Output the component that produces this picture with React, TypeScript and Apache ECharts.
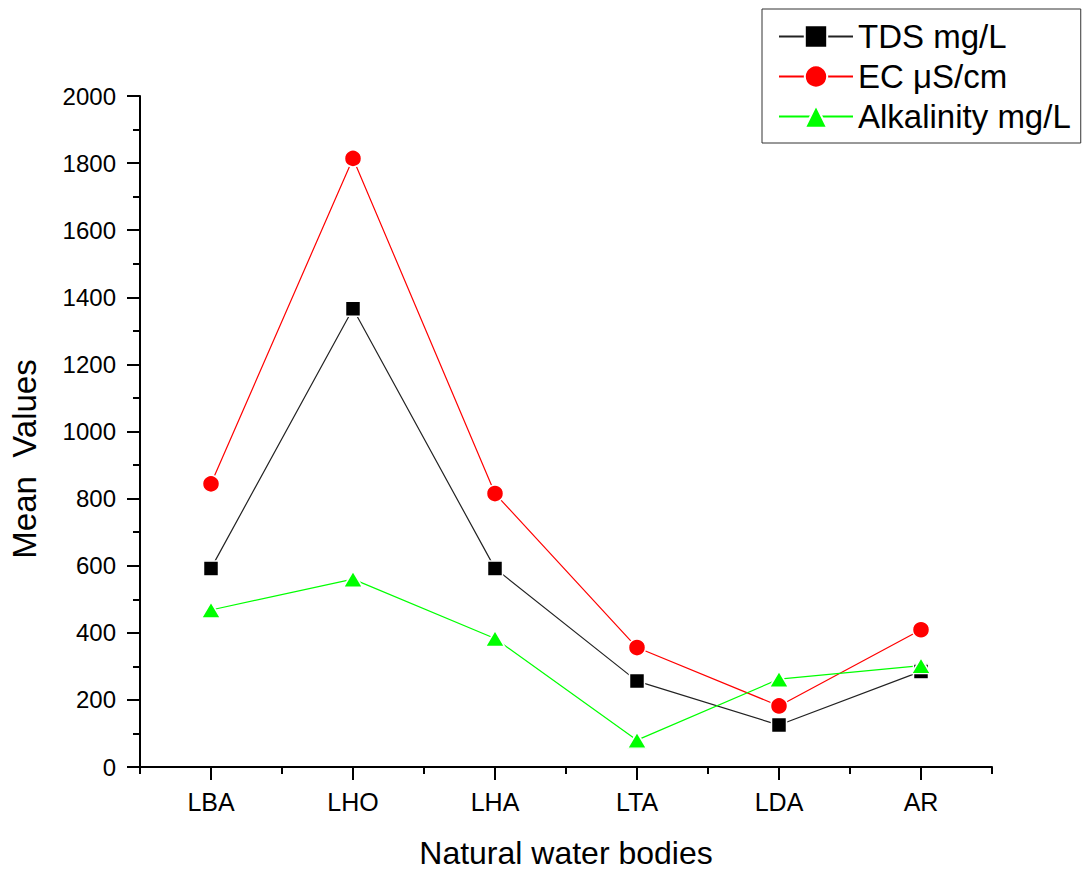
import React, { useEffect, useRef } from "react";
import * as echarts from "echarts";

const categories = ["LBA", "LHO", "LHA", "LTA", "LDA", "AR"];
const tdsValues = [592, 1366, 592, 256, 125, 285];
const ecValues = [844, 1814, 815, 356, 182, 409];
const alkValues = [468, 560, 383, 80, 262, 302];
const yTicks = { min: 0, max: 2000, interval: 200 };
const seriesNames = ["TDS mg/L", "EC μS/cm", "Alkalinity mg/L"];
const xTitle = "Natural water bodies";
const yTitle = "Mean  Values";

const FONT = "'Liberation Sans', Arial, sans-serif";

export default function App() {
  const ref = useRef<HTMLDivElement>(null);
  useEffect(() => {
    if (!ref.current) return;
    const chart = echarts.init(ref.current, null, { renderer: "svg" });
    const markerBorder = { borderColor: "#fff", borderWidth: 1.5 };
    chart.setOption({
      animation: false,
      backgroundColor: "#fff",
      textStyle: { fontFamily: FONT, color: "#000" },
      grid: { left: 140, right: 91, top: 96, bottom: 102, containLabel: false },
      legend: {
        orient: "vertical",
        left: 762,
        top: 9,
        padding: [11, 10, 10, 16],
        borderColor: "#333",
        borderWidth: 1,
        itemWidth: 74,
        itemHeight: 28,
        itemGap: 7,
        textStyle: { fontSize: 33, fontFamily: FONT, color: "#000" },
        data: seriesNames,
      },
      graphic: [
        {
          type: "text",
          x: 24,
          y: 459,
          rotation: Math.PI / 2,
          style: {
            text: yTitle,
            fontSize: 33,
            fontFamily: FONT,
            fill: "#000",
            align: "center",
            verticalAlign: "middle",
          },
        },
      ],
      xAxis: [
        {
          type: "category",
          data: categories,
          boundaryGap: true,
          name: xTitle,
          nameLocation: "middle",
          nameGap: 70,
          nameTextStyle: { fontSize: 32, fontFamily: FONT, color: "#000" },
          axisLine: { lineStyle: { color: "#000", width: 2 } },
          axisTick: { show: false },
          axisLabel: { fontSize: 25, margin: 22, color: "#000", fontFamily: FONT },
          splitLine: { show: false },
        },
        {
          type: "value",
          position: "bottom",
          min: 0,
          max: 6,
          interval: 1,
          axisLine: { show: false },
          axisTick: { show: true, length: 7, lineStyle: { color: "#000", width: 2 } },
          minorTick: { show: true, splitNumber: 2, length: 13, lineStyle: { color: "#000", width: 2 } },
          axisLabel: { show: false },
          splitLine: { show: false },
        },
      ],
      yAxis: {
        type: "value",
        min: yTicks.min,
        max: yTicks.max,
        interval: yTicks.interval,
        axisLine: { show: true, lineStyle: { color: "#000", width: 2 } },
        axisTick: { show: true, length: 13, lineStyle: { color: "#000", width: 2 } },
        minorTick: { show: true, splitNumber: 2, length: 7, lineStyle: { color: "#000", width: 2 } },
        axisLabel: {
          fontSize: 24,
          margin: 24,
          color: "#000",
          fontFamily: FONT,
          formatter: (v: number) => String(v),
        },
        splitLine: { show: false },
      },
      series: [
        {
          name: seriesNames[0],
          type: "line",
          data: tdsValues,
          symbol: "rect",
          symbolSize: 15,
          color: "#000",
          lineStyle: { color: "#222", width: 1.2 },
          itemStyle: { color: "#000", ...markerBorder },
        },
        {
          name: seriesNames[1],
          type: "line",
          data: ecValues,
          symbol: "circle",
          symbolSize: 17,
          color: "#ff0000",
          lineStyle: { color: "#ff0000", width: 1.2 },
          itemStyle: { color: "#ff0000", ...markerBorder },
        },
        {
          name: seriesNames[2],
          type: "line",
          data: alkValues,
          symbol: "triangle",
          symbolSize: [19, 16],
          color: "#00ff00",
          lineStyle: { color: "#00ff00", width: 1.2 },
          itemStyle: { color: "#00ff00", ...markerBorder },
        },
      ],
    });
    return () => chart.dispose();
  }, []);
  return <div ref={ref} style={{ width: 1083, height: 874, position: "absolute", left: 0, top: 0 }} />;
}
